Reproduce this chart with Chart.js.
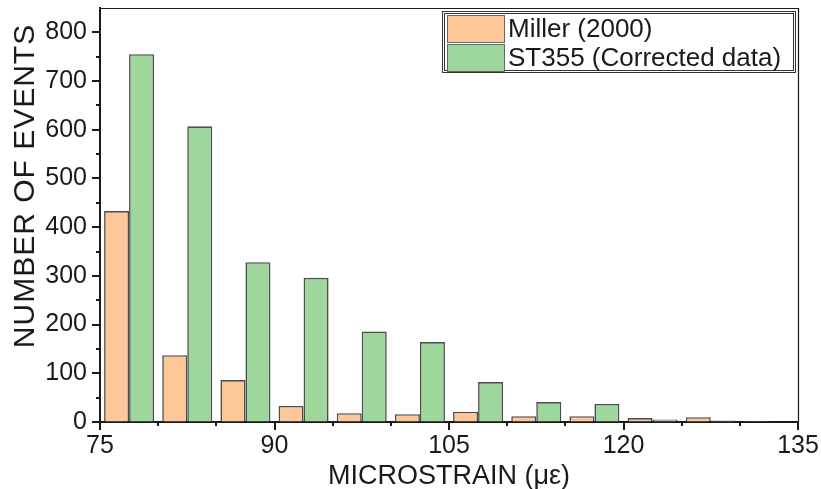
<!DOCTYPE html>
<html>
<head>
<meta charset="utf-8">
<script src="https://cdn.jsdelivr.net/npm/chart.js@4/dist/chart.umd.min.js"></script>
<style>
    html, body { margin: 0; padding: 0; background: #fff; }
    #wrap { width: 821px; height: 489px; }
</style>
</head>
<body>
<div id="wrap"><canvas id="histChart" width="821" height="489"></canvas></div>
<script>
// Histogram bins (5 με wide), centers on the x axis
const binCenters = [77.5, 82.5, 87.5, 92.5, 97.5, 102.5, 107.5, 112.5, 117.5, 122.5, 127.5, 132.5];
const millerCounts = [433, 137, 86, 33, 18, 16, 21, 12, 12, 8, 10, 2];
const st355Counts = [755, 607, 328, 296, 186, 164, 82, 41, 37, 5, 3, 0];
const seriesLabels = ['Miller (2000)', 'ST355 (Corrected data)'];
const xTickValues = [75, 90, 105, 120, 135];
const yTickValues = [0, 100, 200, 300, 400, 500, 600, 700, 800];

const FONT = "'Liberation Sans', Arial, sans-serif";
const INK = '#1a1a1a';

// Minor ticks, plot frame, inner legend, y title
const extrasPlugin = {
    id: 'extras',
    afterDraw(chart) {
        const ctx = chart.ctx;
        const area = chart.chartArea;
        const xs = chart.scales.x;
        const ys = chart.scales.y;
        ctx.save();
        ctx.strokeStyle = INK;

        // top and right frame
        ctx.lineWidth = 1.2;
        ctx.beginPath();
        ctx.moveTo(area.left, area.top + 0.5);
        ctx.lineTo(area.right + 0.5, area.top + 0.5);
        ctx.lineTo(area.right + 0.5, area.bottom);
        ctx.stroke();

        // x ticks every 5, long ones on labelled values
        ctx.lineWidth = 2;
        for (let v = xs.min; v <= xs.max; v += 5) {
            const px = Math.round(xs.getPixelForValue(v));
            const len = xTickValues.includes(v) ? 8 : 4;
            ctx.beginPath();
            ctx.moveTo(px, area.bottom);
            ctx.lineTo(px, area.bottom + len);
            ctx.stroke();
        }
        // y ticks every 50
        for (let v = ys.min; v < ys.max; v += 50) {
            const py = Math.round(ys.getPixelForValue(v));
            const len = yTickValues.includes(v) ? 8 : 4;
            ctx.beginPath();
            ctx.moveTo(area.left, py);
            ctx.lineTo(area.left - len, py);
            ctx.stroke();
        }

        // legend box
        const box = { l: 442, t: 11, r: 795, b: 72 };
        ctx.lineWidth = 1;
        ctx.strokeStyle = '#333';
        ctx.strokeRect(box.l + 0.5, box.t + 0.5, box.r - box.l, box.b - box.t);
        ctx.strokeRect(box.l + 2.5, box.t + 2.5, box.r - box.l - 4, box.b - box.t - 4);
        ctx.font = '26px ' + FONT;
        ctx.textBaseline = 'middle';
        ctx.textAlign = 'left';
        chart.data.datasets.forEach((ds, i) => {
            const sy = 15 + i * 29;
            ctx.fillStyle = ds.backgroundColor;
            ctx.fillRect(447, sy, 57, 27);
            ctx.strokeStyle = '#666';
            ctx.strokeRect(447.5, sy + 0.5, 57, 27);
            ctx.fillStyle = INK;
            ctx.fillText(ds.label, 508, sy + 15);
        });

        // y axis title
        ctx.translate(26, 186);
        ctx.rotate(-Math.PI / 2);
        ctx.textAlign = 'center';
        ctx.font = '30px ' + FONT;
        ctx.letterSpacing = '1px';
        ctx.fillText('NUMBER OF EVENTS', 0, 0);
        ctx.restore();
    }
};

const toPoints = counts => binCenters.map((x, i) => ({ x: x, y: counts[i] }));

new Chart(document.getElementById('histChart'), {
    type: 'bar',
    data: {
        datasets: [
            {
                label: seriesLabels[0],
                data: toPoints(millerCounts),
                backgroundColor: '#fdc797',
                borderColor: '#4d4d4d',
                borderWidth: 1.6
            },
            {
                label: seriesLabels[1],
                data: toPoints(st355Counts),
                backgroundColor: '#9dd79c',
                borderColor: '#4d4d4d',
                borderWidth: 1.6
            }
        ]
    },
    options: {
        responsive: false,
        animation: false,
        devicePixelRatio: 1,
        categoryPercentage: 0.86,
        barPercentage: 1.0,
        layout: { padding: { left: 0, right: 23, top: 8, bottom: 0 } },
        plugins: {
            legend: { display: false },
            tooltip: { enabled: false }
        },
        scales: {
            x: {
                type: 'linear',
                min: 75,
                max: 135,
                offset: false,
                afterBuildTicks: s => { s.ticks = xTickValues.map(v => ({ value: v })); },
                afterFit: s => { s.height = 67; s.paddingLeft = 0; s.paddingRight = 0; },
                grid: { display: true, drawOnChartArea: false, drawTicks: true, tickLength: 8, tickColor: 'rgba(0,0,0,0)', offset: false },
                border: { display: true, color: INK, width: 2 },
                ticks: { color: INK, padding: 1, maxRotation: 0, font: { family: FONT, size: 25 } },
                title: {
                    display: true,
                    text: 'MICROSTRAIN (με)',
                    color: INK,
                    padding: { top: 0, bottom: -4 },
                    font: { family: FONT, size: 27 }
                }
            },
            y: {
                min: 0,
                max: 850,
                afterBuildTicks: s => { s.ticks = yTickValues.map(v => ({ value: v })); },
                afterFit: s => { s.width = 100; s.paddingTop = 0; s.paddingBottom = 0; },
                grid: { display: true, drawOnChartArea: false, drawTicks: true, tickLength: 8, tickColor: 'rgba(0,0,0,0)' },
                border: { display: true, color: INK, width: 2 },
                ticks: { color: INK, padding: 5, font: { family: FONT, size: 25 } },
                title: { display: false }
            }
        }
    },
    plugins: [extrasPlugin]
});
</script>
</body>
</html>
